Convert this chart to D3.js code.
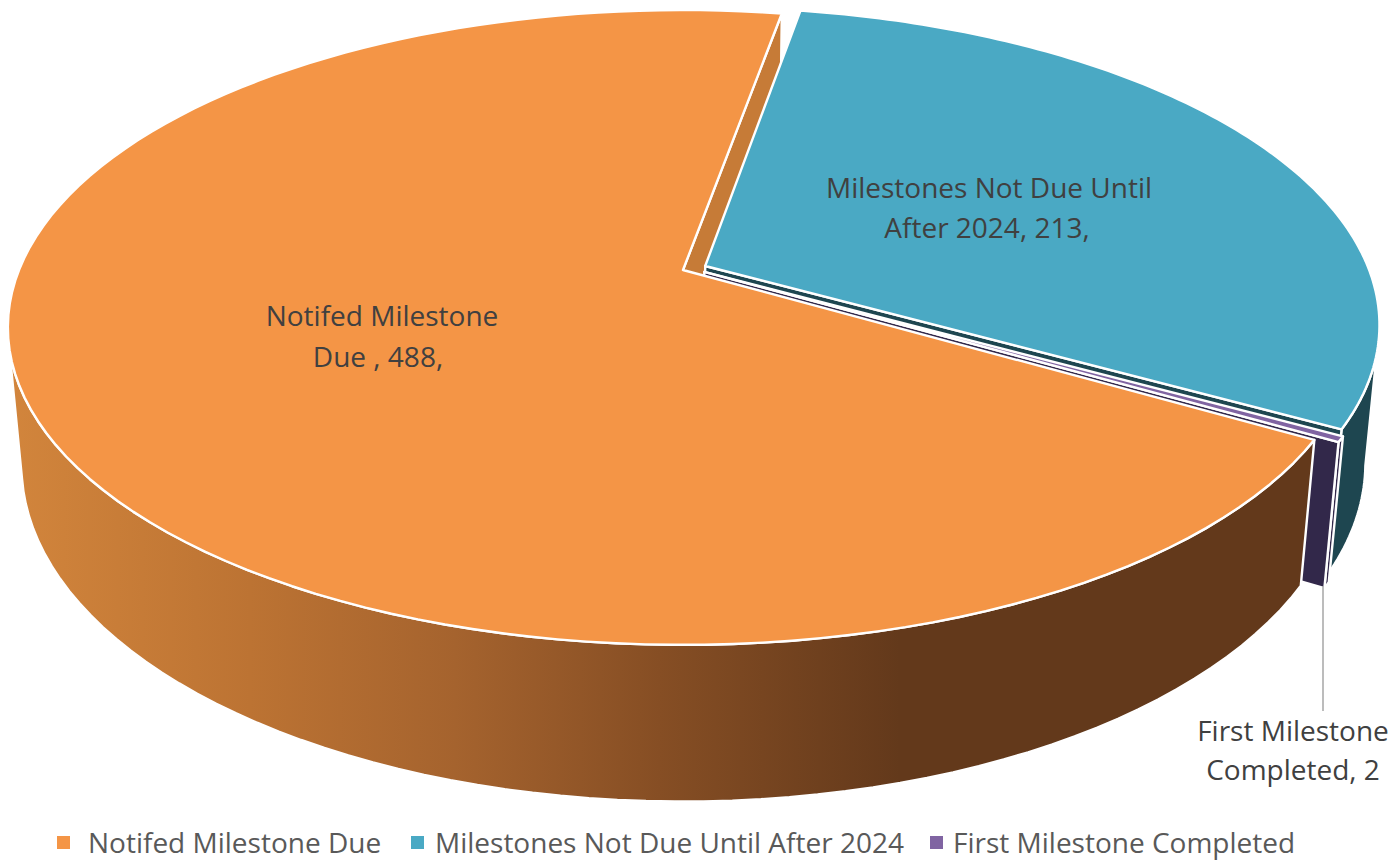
<!DOCTYPE html>
<html>
<head>
<meta charset="utf-8">
<script src="https://cdnjs.cloudflare.com/ajax/libs/d3/7.8.5/d3.min.js"></script>
<style>
body { margin: 0; background: #fff; }
text { font-family: "Open Sans", sans-serif; }
</style>
</head>
<body>
<div id="chart"></div>
<script>
const categories = ["Notifed Milestone Due", "Milestones Not Due Until After 2024", "First Milestone Completed"];
const values = [488, 213, 2];
const topColors = ["#F49546", "#4AA9C4", "#8064A2"];
const wallColors = ["#C67B37", "#1E4650", "#32284A"];

// projection of the tilted disc, fitted to the picture
const cx = 683, cy = 270, kx = 664, ky = 307, persp = 0.181, depth = 0.02, thick = 139;
function project(u, v, z) {
    const w = 1 - persp * v + depth * z;
    return [cx + kx * u / w, cy + (ky * v + thick * z) / w];
}

// how far each slice is pulled out of the pie
const explode = [[0, 0], [0.0335, -0.013], [0.032, 0.006]];

const width = 1393, height = 860;
const svg = d3.select("#chart").append("svg").attr("width", width).attr("height", height);

const color = d3.scaleOrdinal().domain(categories).range(topColors);
const wall = d3.scaleOrdinal().domain(categories).range(wallColors);

const pie = d3.pie().sort(null).startAngle(120.2 * Math.PI / 180).endAngle(480.2 * Math.PI / 180);
const arcs = pie(values).map((d, i) => ({...d, name: categories[i], off: explode[i]}));

const line = d3.line();
const steps = d => d3.range(0, 121).map(t => d.startAngle + (d.endAngle - d.startAngle) * t / 120);
const edge = (d, a, z) => project(d.off[0] + Math.sin(a), d.off[1] - Math.cos(a), z);
const centre = (d, z) => project(d.off[0], d.off[1], z);
const rim = (d, z) => steps(d).map(a => edge(d, a, z));
// only the front part of the rim shows a wall, the rest is behind the top face
const frontRim = (d, z) => steps(d).filter(a => -Math.cos(a) >= persp).map(a => edge(d, a, z));

const defs = svg.append("defs");
const grad = defs.append("linearGradient").attr("id", "orangeWall")
    .attr("gradientUnits", "userSpaceOnUse")
    .attr("x1", 10).attr("x2", 900).attr("y1", 0).attr("y2", 0);
grad.selectAll("stop")
    .data([[0, "#D2853C"], [0.27, "#BC7333"], [0.5, "#A5632E"], [0.73, "#864E24"], [1, "#63391B"]])
    .enter().append("stop")
    .attr("offset", d => d[0]).attr("stop-color", d => d[1]);

const g = svg.append("g").attr("stroke", "#fff").attr("stroke-width", 2.4).attr("stroke-linejoin", "round");

function radialWall(d, a, fill) {
    g.append("path")
        .attr("d", line([centre(d, 0), edge(d, a, 0), edge(d, a, 1), centre(d, 1)]) + "Z")
        .attr("fill", fill);
}
function outerWall(d, fill) {
    g.append("path")
        .attr("d", line(frontRim(d, 0).concat(frontRim(d, 1).reverse())) + "Z")
        .attr("fill", fill);
}
function topFace(d) {
    g.append("path")
        .attr("d", line([centre(d, 0)].concat(rim(d, 0))) + "Z")
        .attr("fill", color(d.name));
}

const [orange, blue, purple] = arcs;

// painted back to front
radialWall(orange, orange.endAngle, wall(orange.name));
outerWall(blue, wall(blue.name));
radialWall(blue, blue.endAngle, wall(blue.name));
topFace(blue);
outerWall(purple, wall(purple.name));
radialWall(purple, purple.endAngle, wall(purple.name));
topFace(purple);
outerWall(orange, "url(#orangeWall)");
topFace(orange);

// leader line
svg.append("line")
    .attr("x1", 1323).attr("x2", 1323).attr("y1", 586).attr("y2", 711)
    .attr("stroke", "#A6A6A6").attr("stroke-width", 1.5);

// data labels
const labelRows = [
    ["Notifed Milestone", 382, 326],
    ["Due , 488,", 378, 367],
    ["Milestones Not Due Until", 989, 198],
    ["After 2024, 213,", 987, 238],
    ["First Milestone", 1293, 741],
    ["Completed, 2", 1293, 780]
];
svg.selectAll(".label").data(labelRows).enter().append("text")
    .attr("class", "label")
    .attr("x", d => d[1]).attr("y", d => d[2])
    .attr("text-anchor", "middle")
    .attr("font-size", 28).attr("fill", "#404040")
    .text(d => d[0]);

// legend
const legendX = [[57, 88], [411, 435], [930, 953]];
const legend = svg.selectAll(".legend").data(categories).enter().append("g").attr("class", "legend");
legend.append("rect")
    .attr("x", (d, i) => legendX[i][0]).attr("y", 836)
    .attr("width", 13).attr("height", 13)
    .attr("fill", d => color(d));
legend.append("text")
    .attr("x", (d, i) => legendX[i][1]).attr("y", 853)
    .attr("font-size", 28).attr("fill", "#595959")
    .text(d => d);
</script>
</body>
</html>
